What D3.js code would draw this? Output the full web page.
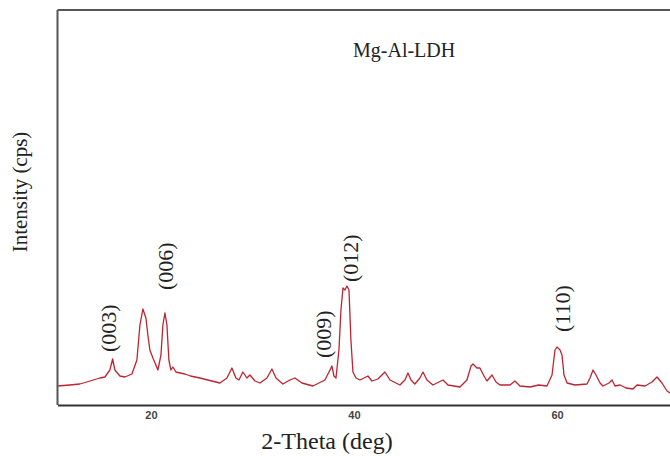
<!DOCTYPE html>
<html>
<head>
<meta charset="utf-8">
<script src="https://cdn.jsdelivr.net/npm/d3@7"></script>
<style>
  body { margin: 0; background: #fff; }
  .serif { font-family: "Liberation Serif", "DejaVu Serif", serif; fill: #222; }
</style>
</head>
<body>
<svg id="chart" width="670" height="456"></svg>
<script>
// XRD pattern of Mg-Al-LDH
var twoTheta = [10.8, 12.0, 13.0, 14.0, 14.98, 15.47, 15.96, 16.23, 16.45, 16.95, 17.44, 18.13, 18.62, 18.92, 19.21, 19.51, 19.70, 19.90,
  20.2, 20.69, 20.99, 21.18, 21.38, 21.58, 21.77, 21.97, 22.17, 22.46, 23.35, 23.9, 24.83, 25.6, 26.80, 27.49, 27.98, 28.37, 28.67,
  29.06, 29.46, 29.75, 30.25, 30.74, 31.43, 31.92, 32.32, 33.0, 33.69, 34.19, 34.88, 35.96, 37.14, 37.64, 37.83, 38.03,
  38.23, 38.52, 38.72, 38.92, 39.11, 39.31, 39.51, 39.70, 39.90, 40.2, 40.59, 41.38, 41.77, 42.36, 43.05, 43.55, 44.53,
  45.02, 45.32, 45.62, 46.0, 46.5, 46.8, 47.19, 47.78, 48.77, 49.26, 50.44, 51.13, 51.53, 51.72, 52.12, 52.41, 52.81,
  53.1, 53.6, 53.99, 54.38, 55.37, 55.86, 56.35, 57.34, 58.2, 59.01, 59.51, 59.8, 60.0, 60.3, 60.49, 60.69, 60.99, 61.77,
  62.96, 63.25, 63.55, 63.84, 64.24, 64.53, 65.12, 65.42, 65.71, 66.21, 66.8, 67.49, 67.88, 68.67, 69.36, 69.85, 70.34,
  70.84, 71.13];
var intensity = [19, 20, 21, 24, 27, 28, 35, 46, 35, 29, 28, 31, 45, 80, 96, 87, 70, 55,
  47, 35, 50, 80, 92, 80, 45, 35, 38, 33, 31, 29, 27, 25, 22, 27, 37, 27, 25,
  33, 27, 30, 24, 22, 27, 36, 27, 21, 25, 27, 22, 19, 25, 35, 39, 29,
  27, 55, 95, 117, 115, 119, 115, 65, 33, 27, 25, 29, 24, 26, 33, 25, 20,
  25, 32, 25, 21, 27, 33, 25, 20, 25, 20, 18, 25, 39, 41, 37, 37, 29,
  24, 30, 23, 20, 20, 24, 19, 18, 20, 19, 30, 55, 58, 55, 50, 30, 22, 20,
  21, 27, 35, 30, 22, 19, 22, 25, 19, 20, 17, 16, 20, 19, 23, 28, 22,
  14, 12];

var peakNames = ["(003)", "(006)", "(009)", "(012)", "(110)"];
var peakTheta = [15.76, 21.38, 36.95, 39.6, 60.5];
var peakLevel = [53, 115, 47, 123, 73];   // intensity where each label ends

var xTicks = [20, 40, 60];

var svg = d3.select("#chart");
var mLeft = 57.5, mTop = 10, mBottom = 405, mRight = 670;

var x = d3.scaleLinear().domain([10.8, 71.13]).range([mLeft, mRight]);
var y = d3.scaleLinear().domain([0, 395]).range([mBottom, mTop]);

var pts = twoTheta.map(function(t, i) { return [t, intensity[i]]; });

svg.append("path")
    .datum(pts)
    .attr("fill", "none")
    .attr("stroke", "#bd2430")
    .attr("stroke-width", 1.3)
    .attr("stroke-linejoin", "round")
    .attr("d", d3.line().x(function(d) { return x(d[0]); }).y(function(d) { return y(d[1]); }));

// frame: top, left and bottom
svg.append("line").attr("x1", mLeft).attr("x2", mRight).attr("y1", mTop).attr("y2", mTop)
    .attr("stroke", "#555").attr("stroke-width", 2);
svg.append("line").attr("x1", mLeft).attr("x2", mLeft).attr("y1", mTop).attr("y2", mBottom)
    .attr("stroke", "#555").attr("stroke-width", 2);

var xAxis = svg.append("g")
    .attr("transform", "translate(0," + mBottom + ")")
    .call(d3.axisBottom(x).tickValues(xTicks).tickSize(0).tickPadding(6));
xAxis.select(".domain").attr("stroke", "#333").attr("stroke-width", 2);
xAxis.selectAll("text")
    .attr("font-family", "Liberation Sans, Arial, sans-serif")
    .attr("font-size", 11).attr("font-weight", "bold").attr("fill", "#444");

// peak labels
svg.selectAll(".peak")
    .data(peakNames)
  .enter().append("text")
    .attr("class", "serif peak")
    .attr("transform", function(d, i) { return "translate(" + x(peakTheta[i]) + "," + y(peakLevel[i]) + ") rotate(-90)"; })
    .attr("dy", "0.35em")
    .attr("font-size", 22)
    .text(function(d) { return d; });

svg.append("text")
    .attr("class", "serif")
    .attr("x", 353).attr("y", 57)
    .attr("font-size", 20)
    .text("Mg-Al-LDH");

svg.append("text")
    .attr("class", "serif")
    .attr("x", 327).attr("y", 449)
    .attr("text-anchor", "middle")
    .attr("font-size", 24)
    .text("2-Theta (deg)");

svg.append("text")
    .attr("class", "serif")
    .attr("transform", "translate(20,192) rotate(-90)")
    .attr("dy", "0.35em")
    .attr("text-anchor", "middle")
    .attr("font-size", 21)
    .text("Intensity (cps)");
</script>
</body>
</html>
